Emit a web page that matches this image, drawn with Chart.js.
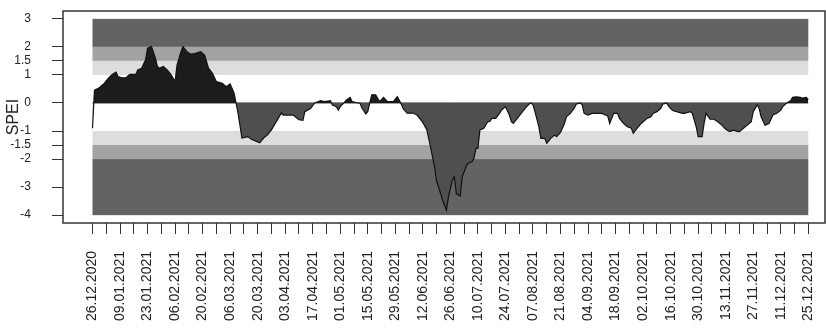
<!DOCTYPE html>
<html>
<head>
<meta charset="utf-8">
<script src="https://cdn.jsdelivr.net/npm/chart.js@4.4.1/dist/chart.umd.min.js"></script>
<style>
  html, body { margin: 0; padding: 0; background: #fff; }
  #wrap { width: 826px; height: 331px; }
</style>
</head>
<body>
<div id="wrap"><canvas id="myChart" width="826" height="331"></canvas></div>
<script>
// days since 26.12.2020 and the SPEI value
const days = [0, 1, 3, 5, 6, 8, 10, 12, 13, 15, 17, 19, 22, 23, 25, 27, 28, 30, 32, 33, 34, 36, 38, 40,
  42, 43, 45, 46, 48, 50, 52, 55, 57, 59, 61, 63, 66, 68, 70, 72, 73, 74, 76, 79, 81, 85, 87, 89, 91,
  93, 96, 97, 102, 105, 107, 108, 111, 113, 116, 118, 121, 122, 124, 125, 126, 128, 129, 131, 132, 135,
  136, 137, 139, 140, 141, 142, 144, 145, 146, 148, 150, 153, 155, 157, 158, 160, 163, 165, 167, 168,
  170, 172, 174, 175, 176, 178, 180, 181, 183, 184, 185, 187, 188, 190, 191, 193, 194, 195, 196, 197,
  199, 201, 202, 203, 205, 207, 208, 210, 212, 213, 214, 216, 218, 220, 222, 223, 224, 225, 227, 228,
  230, 231, 233, 235, 236, 238, 240, 241, 243, 245, 246, 248, 249, 250, 252, 254, 259, 262, 263, 265,
  267, 268, 270, 272, 274, 275, 277, 279, 280, 282, 284, 285, 287, 289, 290, 292, 293, 295, 297, 300,
  301, 304, 305, 307, 308, 310, 311, 312, 314, 316, 318, 320, 322, 324, 326, 328, 329, 331, 333, 335,
  336, 338, 339, 340, 342, 344, 346, 348, 350, 351, 353, 355, 356, 358, 360, 361, 363, 364];
const spei = [-0.9, 0.46, 0.52, 0.64, 0.7, 0.88, 1.02, 1.1, 0.94, 0.9, 0.9, 1.02, 1.02, 1.18, 1.24, 1.54, 1.95, 2.01, 1.6, 1.3, 1.24, 1.3, 1.18, 1.0,
  0.76, 1.36, 1.83, 2.01, 1.83, 1.74, 1.76, 1.83, 1.71, 1.24, 1.06, 0.76, 0.7, 0.58, 0.68, 0.35, 0, -0.36, -1.25, -1.2, -1.3, -1.42, -1.25, -1.14, -0.96,
  -0.72, -0.36, -0.43, -0.43, -0.6, -0.62, -0.31, -0.19, 0, 0.08, 0.05, 0.08, -0.07, -0.13, -0.25, -0.13, 0.01, 0.1, 0.2, 0.05, 0,
  0, -0.18, -0.39, -0.3, 0, 0.29, 0.29, 0.17, 0.05, 0.2, 0.05, 0.05, 0.23, -0.04, -0.2, -0.36, -0.36, -0.43, -0.6, -0.7,
  -0.95, -1.6, -2.3, -2.8, -3.0, -3.46, -3.82, -3.35, -2.75, -2.63, -3.23, -3.32, -2.63, -2.27, -2.15, -2.1, -1.96, -1.62, -1.62, -0.96,
  -0.9, -0.67, -0.67, -0.55, -0.55, -0.37, -0.25, -0.13, -0.43, -0.67, -0.73, -0.55, -0.37, -0.19, -0.04, 0, -0.07, -0.31, -0.85, -1.26,
  -1.26, -1.44, -1.26, -1.14, -1.2, -1.05, -0.73, -0.49, -0.37, -0.19, -0.04, 0, -0.06, -0.37, -0.43, -0.37, -0.37, -0.46, -0.73, -0.37,
  -0.37, -0.55, -0.73, -0.85, -0.9, -1.08, -0.9, -0.73, -0.67, -0.55, -0.49, -0.37, -0.31, -0.19, -0.04, 0, -0.12, -0.27, -0.31, -0.37,
  -0.37, -0.31, -0.37, -0.85, -1.2, -1.2, -0.73, -0.37, -0.58, -0.58, -0.67, -0.79, -0.94, -1.02, -0.97, -1.02, -1.02, -0.9, -0.79, -0.67,
  -0.31, -0.07, -0.19, -0.49, -0.79, -0.73, -0.43, -0.37, -0.25, -0.13, 0, 0.08, 0.2, 0.22, 0.2, 0.17, 0.2, 0.12];

// tick labels every 14 days, tick marks every 7
const dateLabels = ['26.12.2020', '09.01.2021', '23.01.2021', '06.02.2021', '20.02.2021', '06.03.2021',
  '20.03.2021', '03.04.2021', '17.04.2021', '01.05.2021', '15.05.2021', '29.05.2021', '12.06.2021',
  '26.06.2021', '10.07.2021', '24.07.2021', '07.08.2021', '21.08.2021', '04.09.2021', '18.09.2021',
  '02.10.2021', '16.10.2021', '30.10.2021', '13.11.2021', '27.11.2021', '11.12.2021', '25.12.2021'];
const yTicks = [3, 2, 1.5, 1, 0, -1, -1.5, -2, -3, -4];

// SPEI class bands
const bandTop = [3, 2, 1.5, -1, -1.5, -2];
const bandBottom = [2, 1.5, 1, -1.5, -2, -4];

const bandColors = ['#636363', '#a3a3a3', '#dddddd', '#dddddd', '#a3a3a3', '#636363'];

const bandsPlugin = {
  id: 'bands',
  beforeDatasetsDraw(chart) {
    const { ctx, scales: { x, y } } = chart;
    const x0 = x.getPixelForValue(days[0]);
    const x1 = x.getPixelForValue(days[days.length - 1]);
    ctx.save();
    bandTop.forEach((t, i) => {
      const yt = y.getPixelForValue(t);
      const yb = y.getPixelForValue(bandBottom[i]);
      ctx.fillStyle = bandColors[i];
      ctx.fillRect(x0, yt, x1 - x0, yb - yt);
    });
    ctx.restore();
  }
};

const boxPlugin = {
  id: 'box',
  afterDraw(chart) {
    const { ctx, chartArea: a } = chart;
    ctx.save();
    ctx.strokeStyle = '#333';
    ctx.lineWidth = 1.5;
    ctx.strokeRect(a.left, a.top, a.right - a.left - 1, a.bottom - a.top);
    ctx.restore();
  }
};

const points = days.map((d, i) => ({ x: d, y: spei[i] }));
const weeks = [];
for (let d = 0; d <= 364; d += 7) weeks.push(d);

const ctx = document.getElementById('myChart');
new Chart(ctx, {
  type: 'line',
  data: {
    datasets: [{
      data: points,
      borderColor: '#111',
      borderWidth: 1.2,
      pointRadius: 0,
      tension: 0,
      fill: { target: 'origin', above: '#1c1c1c', below: '#4f4f4f' }
    }, {
      data: [{ x: days[0], y: 0 }, { x: days[days.length - 1], y: 0 }],
      borderColor: '#333',
      borderWidth: 1,
      pointRadius: 0,
      fill: false
    }]
  },
  plugins: [bandsPlugin, boxPlugin],
  options: {
    responsive: false,
    animation: false,
    layout: { padding: { top: 11, left: 0, right: 0, bottom: 0 } },
    plugins: { legend: { display: false }, tooltip: { enabled: false } },
    scales: {
      x: {
        type: 'linear',
        min: -15,
        max: 373,
        afterFit(s) {
          s.height = 108;
          s.paddingLeft = 0; s.paddingRight = 0; s.paddingTop = 0; s.paddingBottom = 0;
        },
        afterBuildTicks(s) { s.ticks = weeks.map(v => ({ value: v })); },
        border: { display: false },
        grid: { drawOnChartArea: false, tickLength: 11, color: '#333' },
        ticks: {
          autoSkip: false,
          minRotation: 90,
          maxRotation: 90,
          padding: 17,
          color: '#222',
          font: { family: 'Liberation Sans, Arial, sans-serif', size: 14 },
          callback: (v) => (v % 14 === 0 ? dateLabels[v / 14] : '')
        }
      },
      y: {
        min: -4.28,
        max: 3.28,
        afterFit(s) {
          s.width = 63;
          s.paddingLeft = 0; s.paddingRight = 0; s.paddingTop = 0; s.paddingBottom = 0;
        },
        afterBuildTicks(s) { s.ticks = yTicks.map(v => ({ value: v })); },
        border: { display: false },
        grid: { drawOnChartArea: false, tickLength: 11, color: '#333' },
        ticks: {
          padding: 21,
          color: '#222',
          font: { family: 'Liberation Sans, Arial, sans-serif', size: 12 },
          callback: (v) => String(v)
        },
        title: {
          display: true,
          text: 'SPEI',
          color: '#222',
          padding: { top: 4, bottom: 0 },
          font: { family: 'Liberation Sans, Arial, sans-serif', size: 16 }
        }
      }
    }
  }
});
</script>
</body>
</html>
